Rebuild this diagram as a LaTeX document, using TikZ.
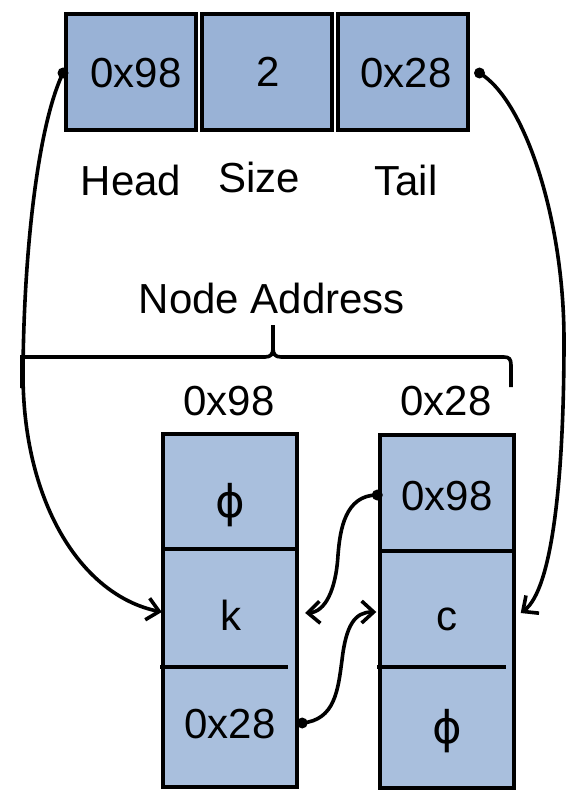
\documentclass[tikz,border=0pt]{standalone}
\usepackage{fontspec}
\setmainfont{Liberation Sans}
\newfontfamily\symfont{DejaVu Sans}
\usetikzlibrary{arrows.meta,calc}
\definecolor{topfill}{RGB}{153,178,214}
\definecolor{cellfill}{RGB}{169,191,221}
\begin{document}
\begin{tikzpicture}[x=1pt,y=-1pt,
  box/.style={draw=black, line width=4pt, fill=topfill, minimum width=130pt, minimum height=116pt, inner sep=0pt},
  col/.style={draw=black, line width=4pt, fill=cellfill, minimum width=134pt, inner sep=0pt},
  cell/.style={minimum width=134pt, inner sep=0pt},
  txt/.style={font=\fontsize{42}{50}\selectfont, inner sep=0pt, anchor=base},
  phisym/.style={font=\symfont\fontsize{45}{50}\selectfont, inner sep=0pt},
  link/.style={line width=3.6pt, -{Straight Barb[length=12pt,width=22pt]}},
  divider/.style={line width=3.6pt},
  bracepath/.style={line width=3.6pt}
]
\useasboundingbox (0,0) rectangle (582,808);

% top structure
\node[box] (head) at (131,72) {};
\node[box] (size) at (267,72) {};
\node[box] (tail) at (402.5,72) {};
\node[txt] (headval) at (136,88) {0x98};
\node[txt] (sizeval) at (268,86) {2};
\node[txt] (tailval) at (406,88) {0x28};
\node[txt] (headlbl) at (131,195) {Head};
\node[txt] (sizelbl) at (259,192) {Size};
\node[txt] (taillbl) at (406,195) {Tail};

% brace
\node[txt] (addr) at (272,313) {Node Address};
\draw[bracepath] (22,388) -- (22,357) -- (265,357) .. controls (271,357) and (273,354) .. (273,348) -- (273,325);
\draw[bracepath] (273,348) .. controls (273,354) and (275,357) .. (281,357) -- (504,357) .. controls (509,357) and (511,359) .. (511,365) -- (511,387);
\node[txt] (addrA) at (229,415) {0x98};
\node[txt] (addrB) at (446,415) {0x28};

% list nodes
\node[col, minimum height=353pt] (lcol) at (230,610.5) {};
\node[col, minimum height=353pt] (rcol) at (446.5,611.5) {};
\node[cell, minimum height=115pt] (lc1) at (230,491.5) {};
\node[cell, minimum height=118pt] (lc2) at (230,608) {};
\node[cell, minimum height=120pt] (lc3) at (230,727) {};
\node[cell, minimum height=116pt] (rc1) at (446.5,493) {};
\node[cell, minimum height=116pt] (rc2) at (446.5,609) {};
\node[cell, minimum height=121pt] (rc3) at (446.5,727.5) {};
\draw[divider] (163,549) -- (297,549);
\draw[divider] (160,667) -- (288,667);
\draw[divider] (380,551) -- (513,551);
\draw[divider] (377,667) -- (506,667);

\node[phisym] (lphi) at (230,505) {\symbol{"03D5}};
\node[txt] (lk) at (231,630) {k};
\node[txt] (lnext) at (230,738) {0x28};
\node[txt] (rprev) at (447,510) {0x98};
\node[txt] (rc) at (447,630) {c};
\node[phisym] (rphi) at (447,731) {\symbol{"03D5}};

% pointer coordinates
\coordinate (hdot) at ($(head.west)+(-1,1)$);
\coordinate (tdot) at ($(tail.east)+(10,1)$);
\coordinate (pdot) at ($(rc1.west)+(-2,2)$);
\coordinate (ndot) at ($(lc3.east)+(5,-4)$);
\coordinate (kin) at ($(lc2.west)+(-1,4)$);
\coordinate (kback) at ($(lc2.east)+(8,5)$);
\coordinate (cin) at ($(rc2.west)+(-3,3)$);
\coordinate (cright) at ($(rc2.east)+(7,4)$);

\draw[link] (hdot) .. controls (38,125) and (24,250) .. (23,370) .. controls (22,500) and (80,595) .. (kin);
\draw[link] (tdot) .. controls (525,100) and (564,220) .. (564,340) .. controls (564,480) and (552,590) .. (cright);
\draw[link] (pdot) .. controls (345,495) and (340,530) .. (338,555) .. controls (336,590) and (325,612) .. (kback);
\draw[link] (ndot) .. controls (335,720) and (338,690) .. (342,660) .. controls (346,625) and (355,612) .. (cin);

\fill (hdot) circle (5.5pt);
\fill (tdot) circle (5.5pt);
\fill (pdot) circle (5.5pt);
\fill (ndot) circle (5.5pt);
\end{tikzpicture}
\end{document}
